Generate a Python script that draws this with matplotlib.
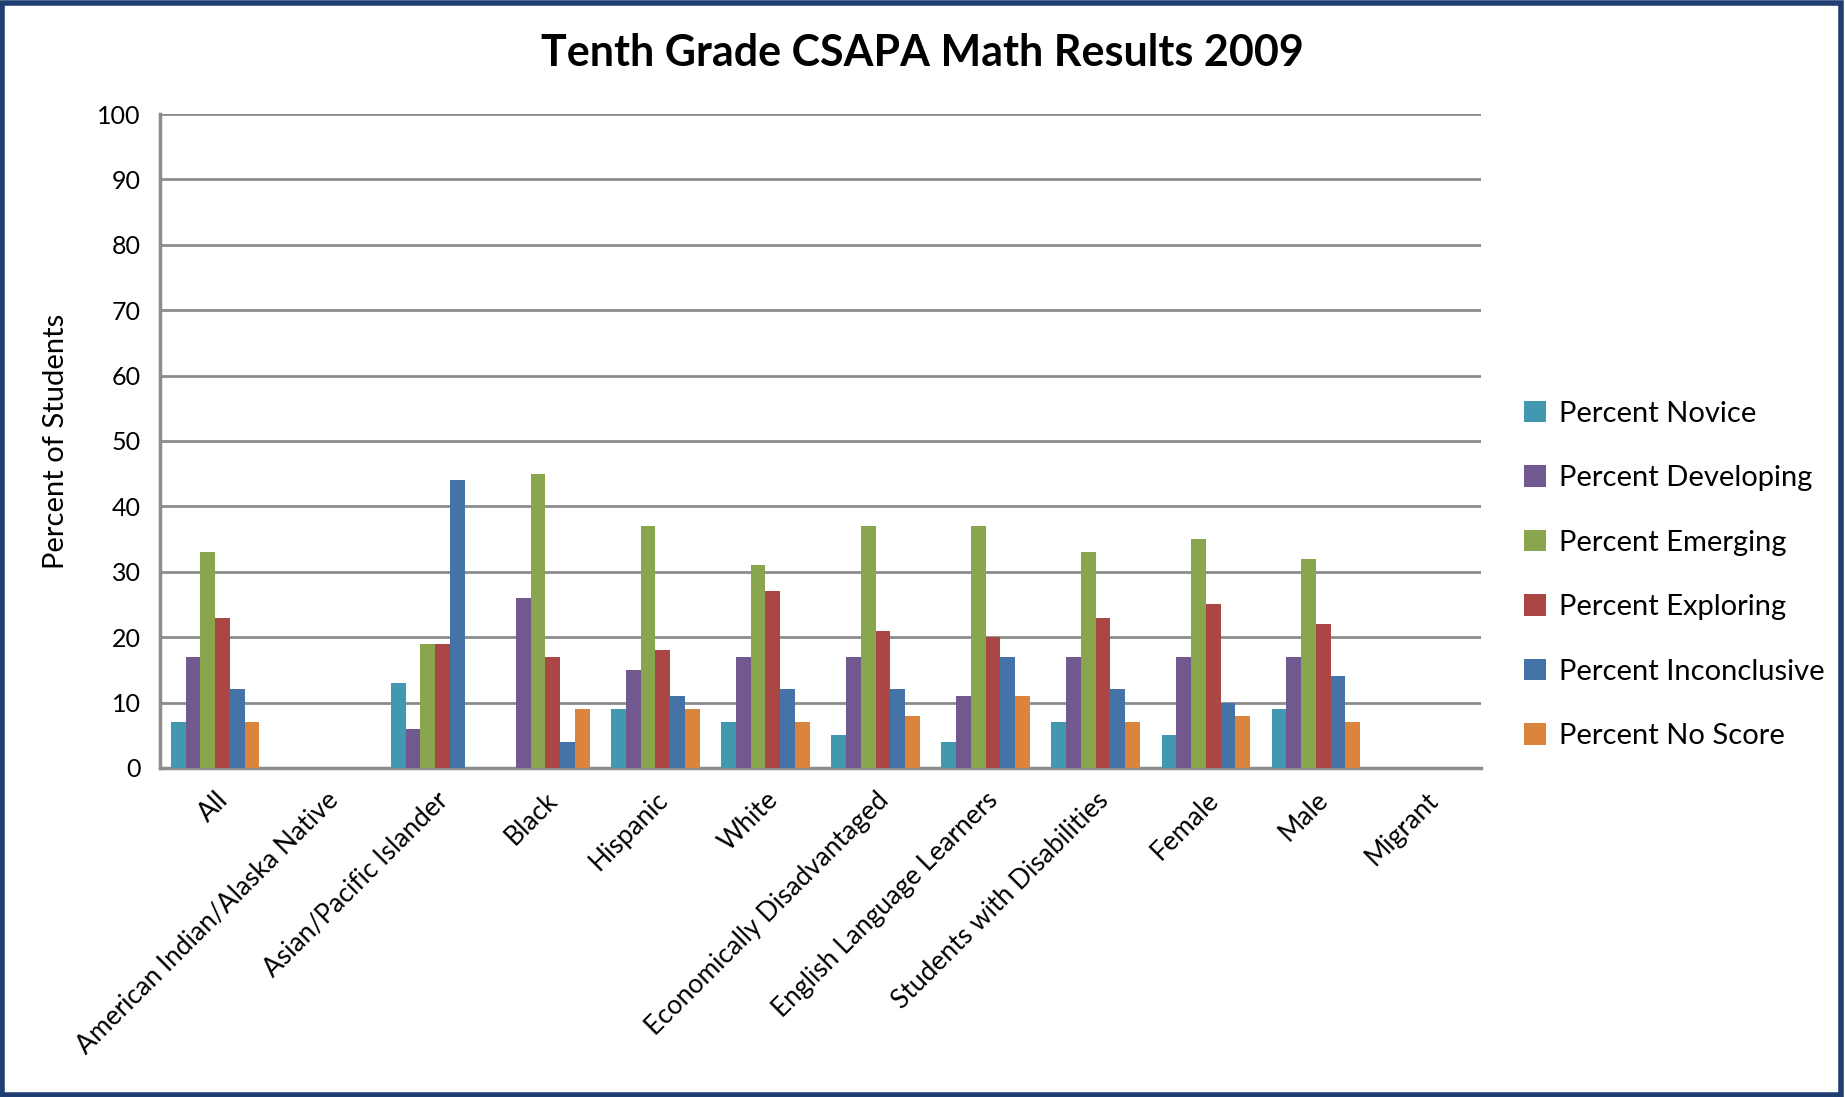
import numpy as np
import matplotlib.pyplot as plt
from matplotlib.patches import Rectangle

plt.rcParams['font.family'] = ['Lato', 'DejaVu Sans']

# categories and series (percent of students)
groups = ['All', 'American Indian/Alaska Native', 'Asian/Pacific Islander', 'Black',
          'Hispanic', 'White', 'Economically Disadvantaged', 'English Language Learners',
          'Students with Disabilities', 'Female', 'Male', 'Migrant']

novice       = [7, 0, 13, 0, 9, 7, 5, 4, 7, 5, 9, 0]
developing   = [17, 0, 6, 26, 15, 17, 17, 11, 17, 17, 17, 0]
emerging     = [33, 0, 19, 45, 37, 31, 37, 37, 33, 35, 32, 0]
exploring    = [23, 0, 19, 17, 18, 27, 21, 20, 23, 25, 22, 0]
inconclusive = [12, 0, 44, 4, 11, 12, 12, 17, 12, 10, 14, 0]
no_score     = [7, 0, 0, 9, 9, 7, 8, 11, 7, 8, 7, 0]

series = [
    ('Percent Novice', novice, '#4198AF'),
    ('Percent Developing', developing, '#71588F'),
    ('Percent Emerging', emerging, '#89A54E'),
    ('Percent Exploring', exploring, '#AA4643'),
    ('Percent Inconclusive', inconclusive, '#4572A7'),
    ('Percent No Score', no_score, '#DB843D'),
]

fig = plt.figure(figsize=(18.45, 10.97), dpi=100)
ax = fig.add_axes([0.0867, 0.300, 0.716, 0.596])

x = np.arange(len(groups))
w = 0.134
for i, (name, vals, col) in enumerate(series):
    ax.bar(x + (i - 2.5) * w, vals, w, color=col, label=name, linewidth=0, zorder=3)

ax.set_xlim(-0.5, len(groups) - 0.5)
ax.set_ylim(0, 100)
ax.set_yticks(range(0, 101, 10))
ax.yaxis.grid(True, color='#8c8c8c', linewidth=2, zorder=0)
ax.tick_params(axis='y', length=0, labelsize=18, pad=14)
ax.tick_params(axis='x', length=0, pad=14)
ax.set_xticks(x)
ax.set_xticklabels(groups, rotation=45, ha='right', va='top',
                   rotation_mode='anchor', fontsize=19)
for s in ['top', 'right']:
    ax.spines[s].set_visible(False)
for s in ['left', 'bottom']:
    ax.spines[s].set_color('#8c8c8c')
    ax.spines[s].set_linewidth(2.5)

ax.set_ylabel('Percent of Students', fontsize=21, labelpad=20)

fig.suptitle('Tenth Grade CSAPA Math Results 2009', fontsize=31, fontweight='bold',
             y=0.952, va='center')

ax.legend(loc='center left', bbox_to_anchor=(1.013, 0.295), frameon=False,
          fontsize=21, handlelength=0.75, handleheight=0.75, handletextpad=0.45,
          labelspacing=1.32)

fig.patches.append(Rectangle((0.001, 0.002), 0.997, 0.995, transform=fig.transFigure,
                             fill=False, edgecolor='#1F3F73', linewidth=4))

fig.savefig('out.png', dpi=100)
